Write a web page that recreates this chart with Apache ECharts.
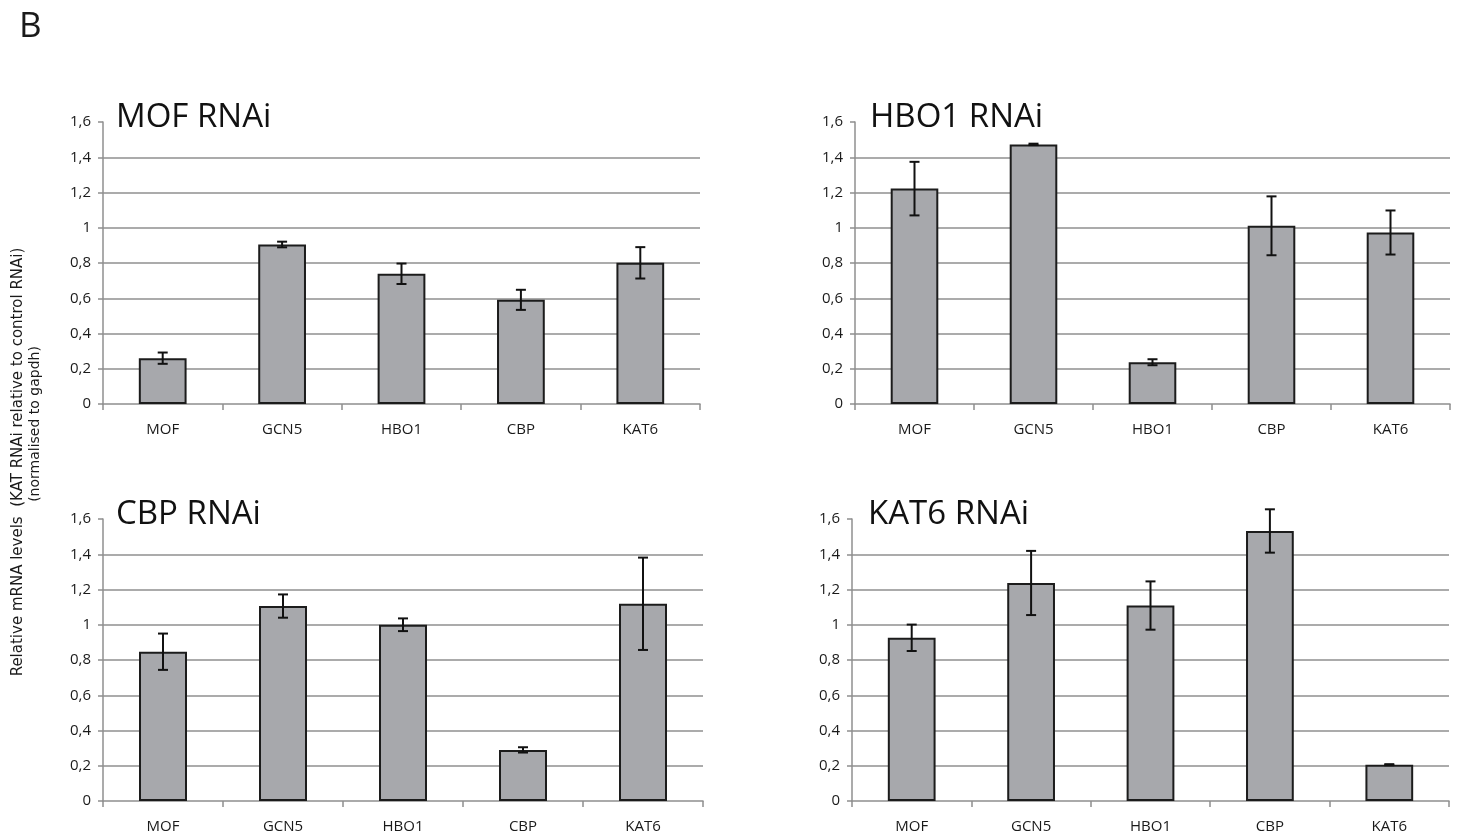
<!DOCTYPE html>
<html>
<head>
<meta charset="utf-8">
<title>KAT RNAi knockdown – relative mRNA levels</title>
<script src="https://cdn.jsdelivr.net/npm/echarts@6/dist/echarts.min.js"></script>
<style>
  html, body { margin: 0; padding: 0; background: #ffffff; }
  #chart { width: 1461px; height: 836px; }
</style>
</head>
<body>
<div id="chart"></div>
<script>
// Genes measured in every knockdown
const categories = ['MOF', 'GCN5', 'HBO1', 'CBP', 'KAT6'];
const panelTitles = ['MOF RNAi', 'HBO1 RNAi', 'CBP RNAi', 'KAT6 RNAi'];

// Mean relative mRNA level per gene, and its error (± half-range)
const mofRNAi     = [0.26, 0.905, 0.739, 0.591, 0.801];
const mofRNAiErr  = [0.032, 0.016, 0.058, 0.057, 0.089];
const hbo1RNAi    = [1.222, 1.473, 0.237, 1.011, 0.973];
const hbo1RNAiErr = [0.152, 0.004, 0.017, 0.167, 0.125];
const cbpRNAi     = [0.847, 1.106, 1.0, 0.29, 1.119];
const cbpRNAiErr  = [0.103, 0.066, 0.036, 0.015, 0.262];
const kat6RNAi    = [0.926, 1.237, 1.109, 1.532, 0.206];
const kat6RNAiErr = [0.075, 0.182, 0.137, 0.123, 0.003];

// Value-axis tick labels (decimal comma)
const yTickLabels = ['0', '0,2', '0,4', '0,6', '0,8', '1', '1,2', '1,4', '1,6'];

const panelValues = [mofRNAi, hbo1RNAi, cbpRNAi, kat6RNAi];
const panelErrors = [mofRNAiErr, hbo1RNAiErr, cbpRNAiErr, kat6RNAiErr];

const FONT = '"Open Sans", "Noto Sans", sans-serif';
const AXIS_GREY = '#8f8f8f';

// Plot rectangles of the four panels
const grids = [
  { left: 103, top: 122, width: 597, height: 282 },
  { left: 855, top: 122, width: 595, height: 282 },
  { left: 103, top: 519, width: 600, height: 282 },
  { left: 852, top: 519, width: 597, height: 282 }
];
const titlePos = [
  { left: 116, top: 101 },
  { left: 870, top: 101 },
  { left: 116, top: 498 },
  { left: 868, top: 498 }
];

const xAxes = [], yAxes = [], series = [], titles = [];

grids.forEach((g, i) => {
  xAxes.push({
    type: 'category',
    gridIndex: i,
    data: categories,
    boundaryGap: true,
    axisLine: { show: true, lineStyle: { color: AXIS_GREY, width: 1.5 } },
    axisTick: { show: true, length: 6, inside: false, alignWithLabel: false,
                lineStyle: { color: AXIS_GREY, width: 1.5 } },
    axisLabel: { color: '#1a1a1a', fontSize: 15, fontFamily: FONT, margin: 18 },
    splitLine: { show: false }
  });
  yAxes.push({
    type: 'value',
    gridIndex: i,
    min: 0,
    max: 1.6,
    interval: 0.2,
    axisLine: { show: true, lineStyle: { color: AXIS_GREY, width: 1.5 } },
    axisTick: { show: true, length: 5, lineStyle: { color: AXIS_GREY, width: 1.5 } },
    axisLabel: {
      color: '#1a1a1a', fontSize: 15, fontFamily: FONT, margin: 12,
      formatter: v => yTickLabels[Math.round(v / 0.2)]
    },
    splitLine: { show: true, showMinLine: false, showMaxLine: false,
                 lineStyle: { color: AXIS_GREY, width: 1.5 } }
  });
  titles.push({
    text: panelTitles[i],
    left: titlePos[i].left,
    top: titlePos[i].top,
    padding: 0,
    textStyle: { fontFamily: FONT, fontSize: 33, fontWeight: 'normal', color: '#111' }
  });
  series.push({
    type: 'bar',
    xAxisIndex: i,
    yAxisIndex: i,
    data: panelValues[i],
    barWidth: '40%',
    itemStyle: { color: '#a7a8ac', borderColor: '#1c1c1c', borderWidth: 2 },
    emphasis: { disabled: true },
    silent: true
  });
  series.push({
    type: 'custom',
    xAxisIndex: i,
    yAxisIndex: i,
    silent: true,
    z: 5,
    data: panelValues[i].map((v, k) => [k, v, panelErrors[i][k]]),
    encode: { x: 0, y: 1 },
    renderItem: (params, api) => {
      const k = api.value(0), v = api.value(1), e = api.value(2);
      const top = api.coord([k, v + e]);
      const bot = api.coord([k, v - e]);
      const x = top[0], cap = 5;
      const style = { stroke: '#111', lineWidth: 2 };
      return {
        type: 'group',
        children: [
          { type: 'line', shape: { x1: x, y1: top[1], x2: x, y2: bot[1] }, style },
          { type: 'line', shape: { x1: x - cap, y1: top[1], x2: x + cap, y2: top[1] }, style },
          { type: 'line', shape: { x1: x - cap, y1: bot[1], x2: x + cap, y2: bot[1] }, style }
        ]
      };
    }
  });
});

const chart = echarts.init(document.getElementById('chart'), null, { renderer: 'canvas' });
chart.setOption({
  backgroundColor: '#ffffff',
  animation: false,
  title: titles,
  grid: grids,
  xAxis: xAxes,
  yAxis: yAxes,
  series: series,
  graphic: [
    {
      type: 'text',
      left: 19, top: 10,
      style: { text: 'B', fontFamily: FONT, fontSize: 35, fill: '#1a1a1a' }
    },
    {
      type: 'text',
      x: 18, y: 462,
      rotation: Math.PI / 2,
      style: {
        text: 'Relative mRNA levels  (KAT RNAi relative to control RNAi)',
        fontFamily: '"DejaVu Sans", sans-serif',
        fontSize: 15,
        fill: '#1a1a1a',
        align: 'center',
        verticalAlign: 'middle'
      }
    },
    {
      type: 'text',
      x: 35, y: 424,
      rotation: Math.PI / 2,
      style: {
        text: '(normalised to gapdh)',
        fontFamily: '"DejaVu Sans", sans-serif',
        fontSize: 14,
        fill: '#1a1a1a',
        align: 'center',
        verticalAlign: 'middle'
      }
    }
  ]
});
</script>
</body>
</html>
